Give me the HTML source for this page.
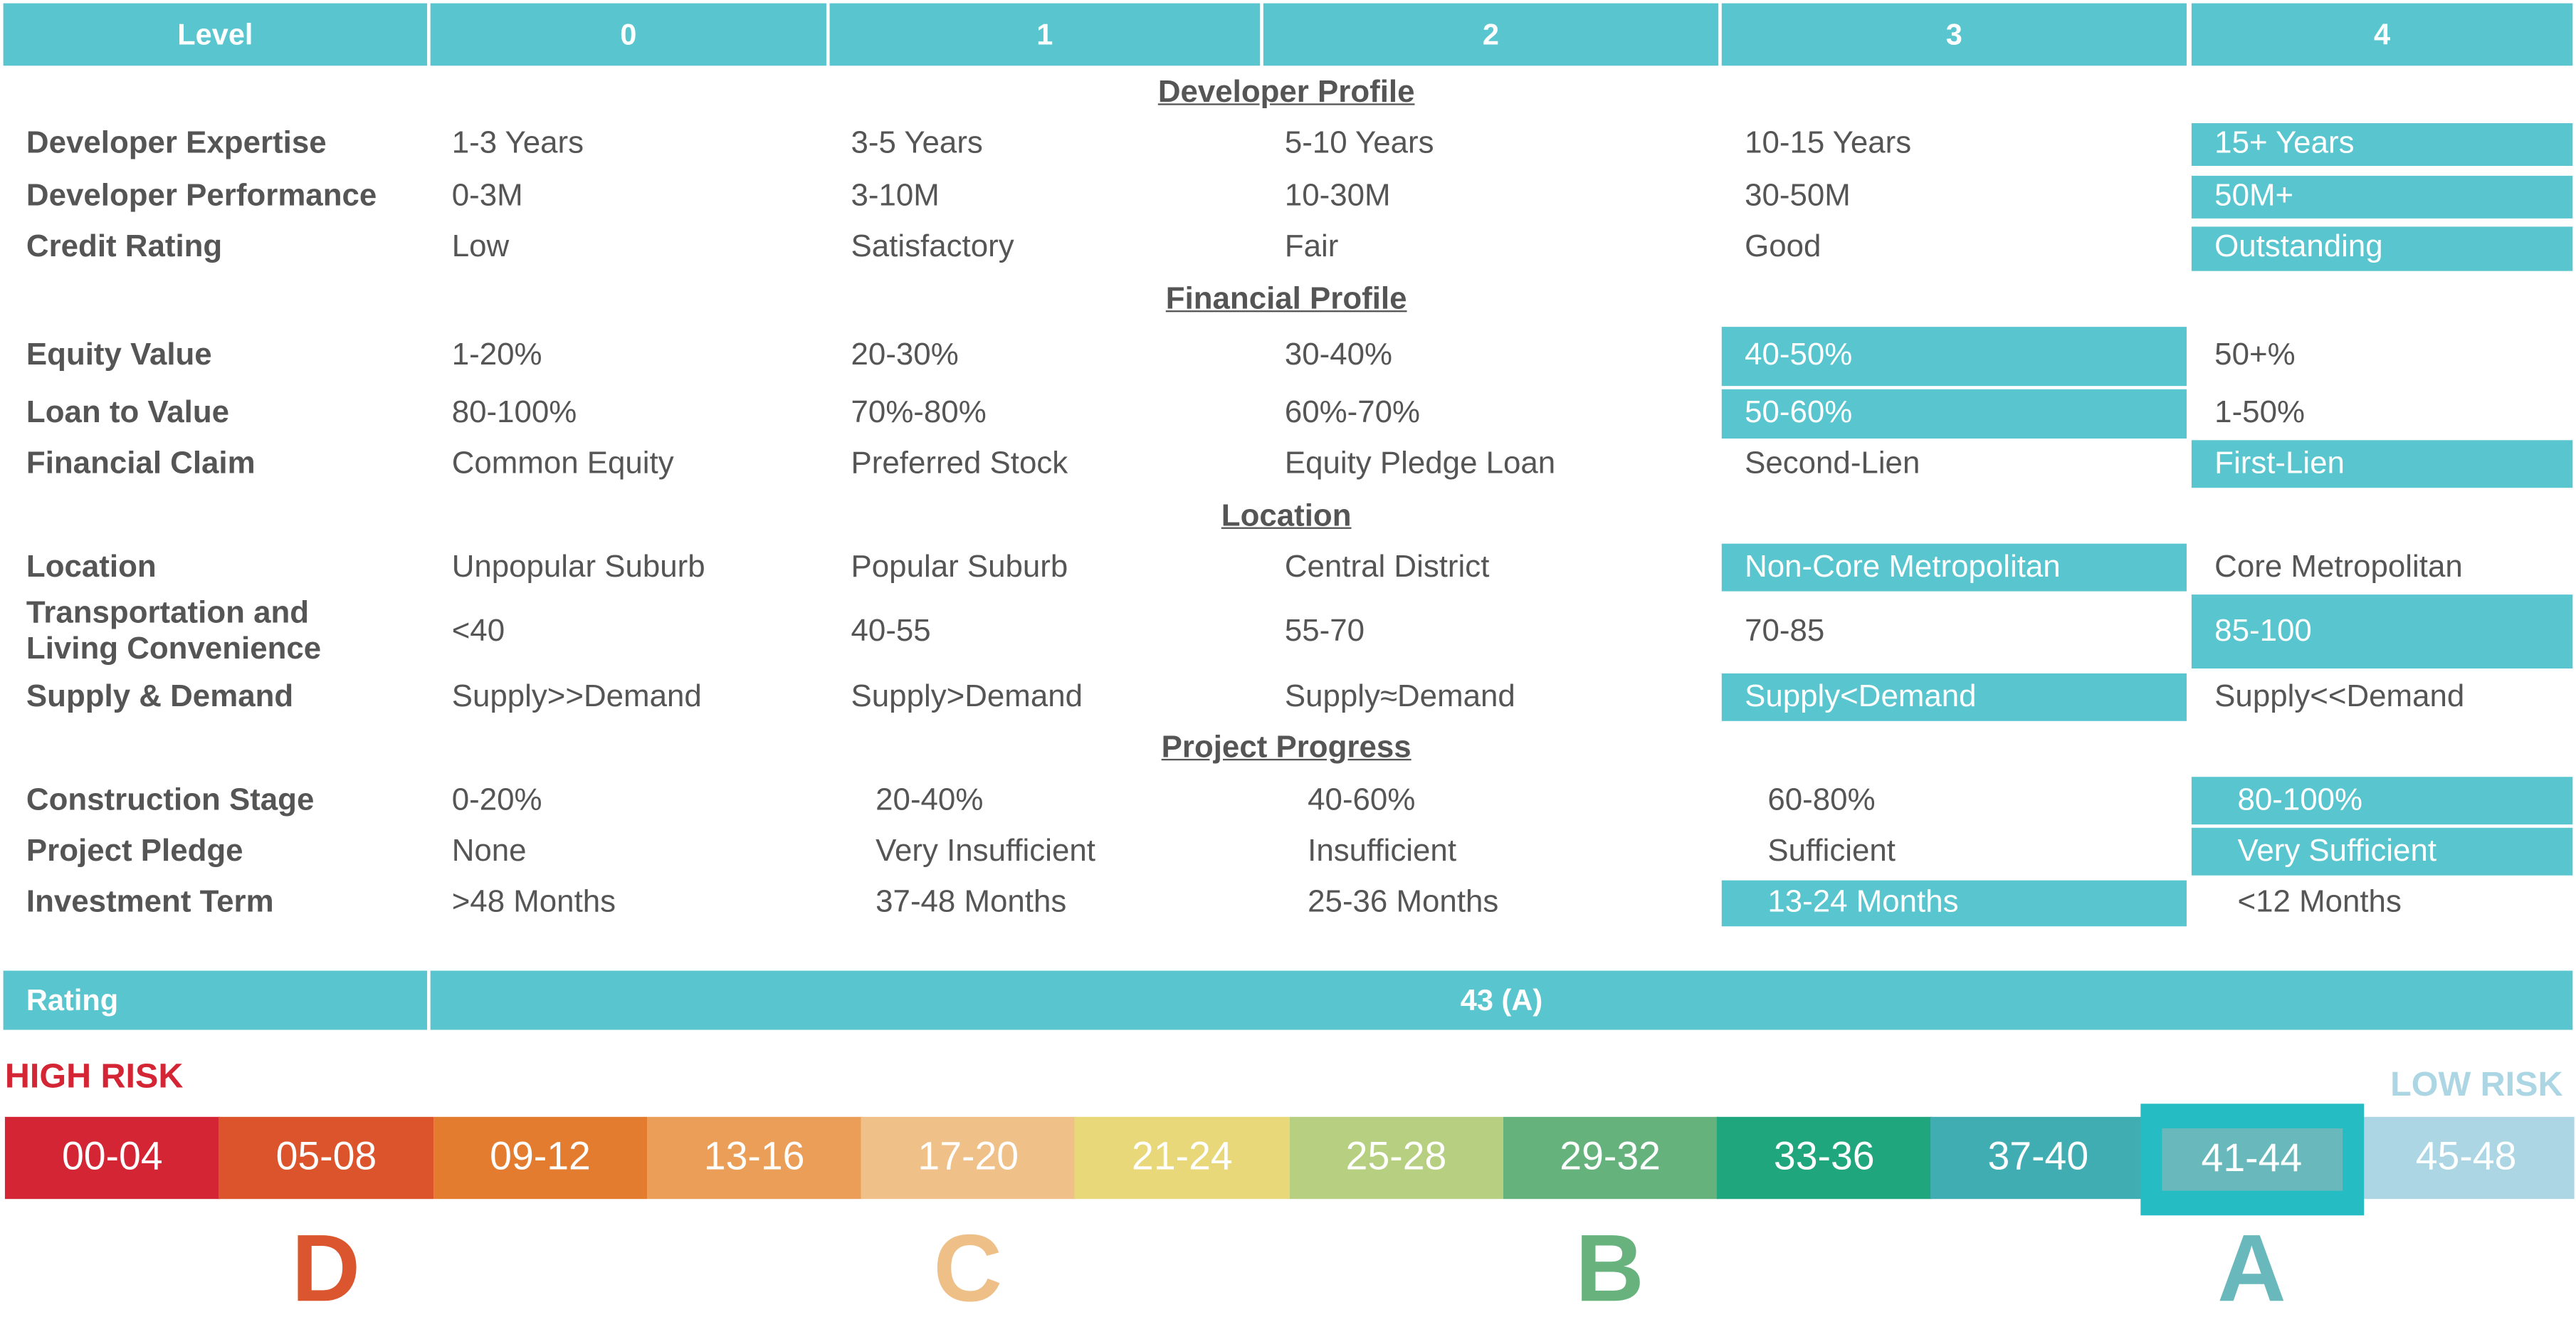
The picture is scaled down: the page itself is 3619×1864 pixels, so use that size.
<!DOCTYPE html>
<html><head><meta charset="utf-8">
<style>
html,body{margin:0;padding:0;background:#fff;width:3619px;height:1818px;overflow:hidden}
#wrap{position:absolute;left:0;top:0;width:1568px;height:788px;transform:scale(2.308,2.3071);transform-origin:0 0;font-family:"Liberation Sans",sans-serif;color:#555}
.a{position:absolute;white-space:nowrap}
.hd{position:absolute;background:#58c5cf;color:#fff;font-weight:bold;font-size:18px;display:flex;align-items:center;justify-content:center}
.lab{font-weight:bold;font-size:19px;line-height:22px}
.val{font-size:19px;line-height:22px}
.sec{font-weight:bold;font-size:19px;text-decoration:underline;left:0;width:1566px;text-align:center}
.hl{position:absolute;background:#58c5cf}
.seg{position:absolute;top:680px;height:50px;color:#fff;font-size:24px;display:flex;align-items:center;justify-content:center}
.grade{position:absolute;font-size:58px;font-weight:bold;top:738px;line-height:70px;transform:translateX(-50%)}
</style></head><body>
<div id="wrap">
<div class="hd" style="left:2px;top:2px;width:258px;height:38px">Level</div>
<div class="hd" style="left:262px;top:2px;width:241px;height:38px">0</div>
<div class="hd" style="left:505px;top:2px;width:262px;height:38px">1</div>
<div class="hd" style="left:769px;top:2px;width:277px;height:38px">2</div>
<div class="hd" style="left:1048px;top:2px;width:283px;height:38px">3</div>
<div class="hd" style="left:1334px;top:2px;width:232px;height:38px">4</div>
<div id="rows"></div>
<div class="hd" style="left:2px;top:591px;width:258px;height:36px;justify-content:flex-start;padding-left:14px;box-sizing:border-box">Rating</div>
<div class="hd" style="left:262px;top:591px;width:1304px;height:36px">43 (A)</div>
<div class="a" style="left:3px;top:644px;font-size:21px;font-weight:bold;color:#d42535">HIGH RISK</div>
<div class="a" style="right:8px;top:649px;font-size:21px;font-weight:bold;color:#acd6e4">LOW RISK</div>
<div id="scale"></div>
</div>
<script>
const rowLabels=["Developer Expertise","Developer Performance","Credit Rating","Equity Value","Loan to Value","Financial Claim","Location","Transportation and Living Convenience","Supply & Demand","Construction Stage","Project Pledge","Investment Term"];
const rowValues=[
["1-3 Years","3-5 Years","5-10 Years","10-15 Years","15+ Years"],
["0-3M","3-10M","10-30M","30-50M","50M+"],
["Low","Satisfactory","Fair","Good","Outstanding"],
["1-20%","20-30%","30-40%","40-50%","50+%"],
["80-100%","70%-80%","60%-70%","50-60%","1-50%"],
["Common Equity","Preferred Stock","Equity Pledge Loan","Second-Lien","First-Lien"],
["Unpopular Suburb","Popular Suburb","Central District","Non-Core Metropolitan","Core Metropolitan"],
["<40","40-55","55-70","70-85","85-100"],
["Supply>>Demand","Supply>Demand","Supply≈Demand","Supply<Demand","Supply<<Demand"],
["0-20%","20-40%","40-60%","60-80%","80-100%"],
["None","Very Insufficient","Insufficient","Sufficient","Very Sufficient"],
[">48 Months","37-48 Months","25-36 Months","13-24 Months","<12 Months"]];
const selectedLevel=[4,4,4,3,3,4,3,4,3,4,4,3];
const sections=["Developer Profile","Financial Profile","Location","Project Progress"];
const sectionY=[57,183,315,456];
const rowY=[88,120,151,217,252,283,346,385,425,488,519,550];
const hlBox=[[75,101],[107,133],[138,165],[199,235],[237,267],[268,297],[331,360],[362,407],[410,439],[473,502],[504,533],[536,564]];
const colL=[262,505,769,1048,1334],colW=[241,262,277,283,232];
const textX=[275,518,782,1062,1348],ppX=[275,533,796,1076,1362];
const rows=document.getElementById('rows');
sections.forEach((s,i)=>{
 const d=document.createElement('div');d.className='a sec';d.style.top=(sectionY[i]-11)+'px';d.textContent=s;
 
 
 rows.appendChild(d);});
rowLabels.forEach((l,r)=>{
 const y=rowY[r];
 const lb=document.createElement('div');lb.className='a lab';lb.style.left='16px';
 if(r===7){lb.style.whiteSpace='normal';lb.style.width='240px';lb.style.top=(y-22)+'px';lb.innerHTML='Transportation and<br>Living Convenience';}
 else{lb.style.top=(y-11)+'px';lb.textContent=l;}
 
 
 rows.appendChild(lb);
 const c=selectedLevel[r];
 const h=document.createElement('div');h.className='hl';h.style.left=colL[c]+'px';h.style.width=colW[c]+'px';h.style.top=hlBox[r][0]+'px';h.style.height=(hlBox[r][1]-hlBox[r][0])+'px';
 
 
 rows.appendChild(h);
 rowValues[r].forEach((v,k)=>{
  const t=document.createElement('div');t.className='a val';
  t.style.left=((r>=9&&k>0)?ppX[k]:textX[k])+'px';t.style.top=(y-11)+'px';t.textContent=v;
  if(k===c)t.style.color='#fff';
  
  
  rows.appendChild(t);});
});
const bands=["00-04","05-08","09-12","13-16","17-20","21-24","25-28","29-32","33-36","37-40","41-44","45-48"];
const bandColors=["#d42535","#dc542c","#e37c2f","#eb9e57","#efc088","#e8d87a","#b6cf80","#66b27c","#20a67c","#3fadb1","#3fadb1","#acd6e4"];
const ratingScore=43;
const grades=["D","C","B","A"];
const gradeColors=["#db552e","#eec088","#67b27d","#69b8bb"];
const gradeBand=[1.5,4.5,7.5,10.5];
const sc=document.getElementById('scale');
const x0=3,bw=(1566-3)/bands.length;
const bx=i=>x0+i*bw;
const sel=Math.min(bands.length-1,Math.floor((ratingScore-1)/4));
bands.forEach((b,i)=>{
 const d=document.createElement('div');d.className='seg';d.style.left=bx(i)+'px';d.style.width=(bw+0.5)+'px';d.style.background=bandColors[i];d.textContent=b;
 
 
 sc.appendChild(d);});
const box=document.createElement('div');box.style.cssText='position:absolute;top:672px;height:68px;background:#25bcc3';
box.style.left=(bx(sel)-3)+'px';box.style.width=(bw+6)+'px';


sc.appendChild(box);
const inner=document.createElement('div');inner.style.cssText='position:absolute;top:687px;height:38px;background:#69b8bb;color:#fff;font-size:24px;display:flex;align-items:center;justify-content:center';
inner.style.left=(bx(sel)+10)+'px';inner.style.width=(bw-20)+'px';inner.textContent=bands[sel];


sc.appendChild(inner);
grades.forEach((g,i)=>{
 const d=document.createElement('div');d.className='grade';d.style.left=(x0+gradeBand[i]*bw)+'px';d.style.color=gradeColors[i];d.textContent=g;
 
 
 sc.appendChild(d);});
</script>
</body></html>
